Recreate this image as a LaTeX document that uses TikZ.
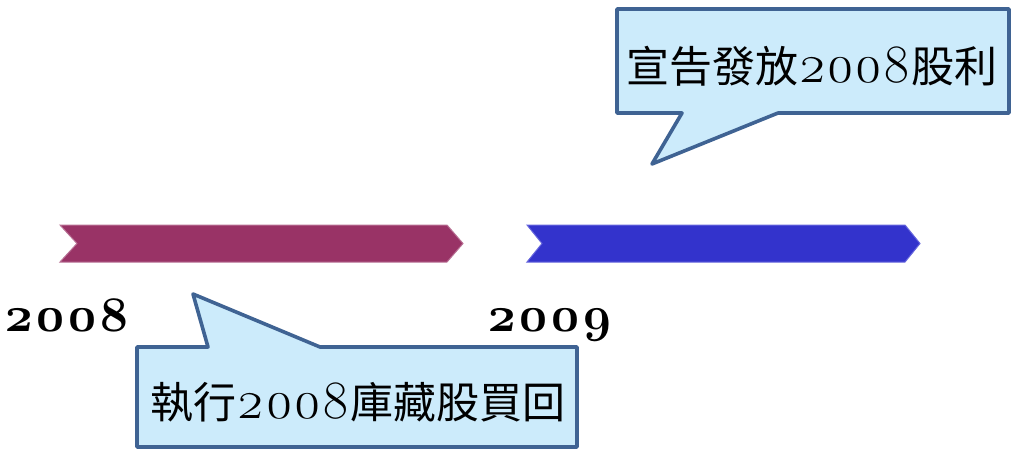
\documentclass[tikz,border=0pt]{standalone}
\usepackage{fontspec}
\newfontfamily\cjk{Noto Sans CJK TC}
\newfontfamily\osf{Latin Modern Roman}[Numbers=OldStyle]
\definecolor{maroon}{HTML}{993366}
\definecolor{royal}{HTML}{3333CC}
\definecolor{royaledge}{HTML}{6666DD}
\definecolor{callfill}{HTML}{CCEBFB}
\definecolor{calledge}{HTML}{3F6393}
\newcommand\digs[1]{{\osf\fontsize{54}{54}\selectfont #1}}
\tikzset{
  chevron/.style={line width=1pt, line join=miter},
  callout/.style={fill=callfill, draw=calledge, line width=3.6pt, line join=round},
  calltext/.style={inner sep=0pt, anchor=center, font=\fontsize{43}{43}\selectfont},
  yearlabel/.style={inner sep=0pt, anchor=base, font=\fontsize{50}{50}\selectfont\osf\bfseries}
}
\begin{document}
\begin{tikzpicture}[x=1pt,y=-1pt]
\useasboundingbox (0,0) rectangle (1012,450);
% chevrons
\draw[chevron, fill=maroon, draw=maroon!70!white] (60,225) -- (447,225) -- (463,243.5) -- (447,262) -- (60,262) -- (77,243.5) -- cycle;
\draw[chevron, fill=royal, draw=royaledge] (527,225) -- (905,225) -- (920,243.5) -- (905,262) -- (527,262) -- (542,243.5) -- cycle;
% top callout
\draw[callout] (617,9) -- (1009,9) -- (1009,113) -- (778,113) -- (652,164) -- (682,113) -- (617,113) -- cycle;
\node[calltext] (t1) at (812,66) {\cjk 宣告發放\digs{2008}股利};
% bottom callout
\draw[callout] (137,347) -- (208,347) -- (193,294) -- (320,347) -- (577,347) -- (577,447) -- (137,447) -- cycle;
\node[calltext] (t2) at (358,402) {\cjk 執行\digs{2008}庫藏股買回};
% year labels
\node[yearlabel] (y1) at (67,331) {2008};
\node[yearlabel] (y2) at (550,331) {2009};
\end{tikzpicture}
\end{document}
